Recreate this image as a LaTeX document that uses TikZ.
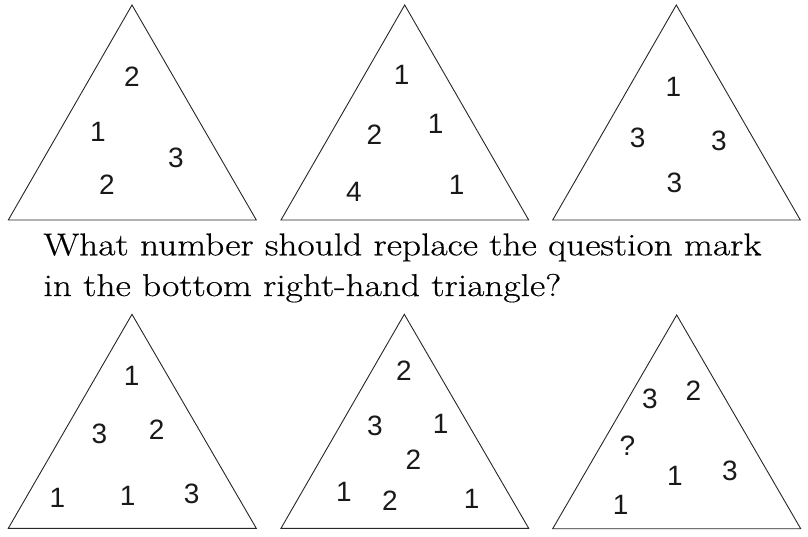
\documentclass[tikz,border=0pt]{standalone}
\usepackage{fontspec}
\newfontfamily\numfont{Liberation Sans}
\newfontfamily\qfont{Latin Modern Roman}[FakeBold=0.45]
\newsavebox\lineonebox
\newsavebox\linetwobox
\begin{document}
\sbox\lineonebox{\qfont\fontsize{31.5}{31.5}\selectfont What number should replace the question mark}
\sbox\linetwobox{\qfont\fontsize{31.5}{31.5}\selectfont in the bottom right-hand triangle?}
\pgfmathsetmacro\sx{718/\wd\lineonebox}
\begin{tikzpicture}[x=1pt,y=-1pt,
  tri/.style={draw=black!85,line width=0.9pt,line join=miter},
  num/.style={inner sep=0pt,font=\numfont\fontsize{28}{28}\selectfont,text=black!90},
  qtext/.style={inner sep=0pt,anchor=base west}]
\useasboundingbox (0,0) rectangle (808,536);
% triangles
\draw[tri] (132,5) -- (8.3,220) -- (256.3,220) -- cycle;
\draw[tri] (404.7,5) -- (281,220) -- (528.7,220) -- cycle;
\draw[tri] (676.3,5) -- (552.7,220) -- (800.3,220) -- cycle;
\draw[tri] (132,314.3) -- (8.3,528.3) -- (256.3,528.3) -- cycle;
\draw[tri] (404.3,314.3) -- (281,528.3) -- (528.7,528.3) -- cycle;
\draw[tri] (676.7,315) -- (552.7,528.7) -- (800.7,528.7) -- cycle;
% top-left
\node[num] (a1) at (132,77) {2};
\node[num] (a2) at (98,132) {1};
\node[num] (a3) at (176,158) {3};
\node[num] (a4) at (107,185) {2};
% top-middle
\node[num] (b1) at (401.7,75) {1};
\node[num] (b2) at (435.7,124) {1};
\node[num] (b3) at (374.3,135) {2};
\node[num] (b4) at (354,191.7) {4};
\node[num] (b5) at (456.7,185) {1};
% top-right
\node[num] (c1) at (673.3,86.7) {1};
\node[num] (c2) at (637.7,138.3) {3};
\node[num] (c3) at (719,140.7) {3};
\node[num] (c4) at (674.3,183.3) {3};
% question
\node[qtext] (q1) at (43.3,255.3) {\scalebox{\sx}[1]{\usebox\lineonebox}};
\node[qtext] (q2) at (43.3,296) {\scalebox{\sx}[1]{\usebox\linetwobox}};
% bottom-left
\node[num] (d1) at (131.7,376) {1};
\node[num] (d2) at (99.3,433.7) {3};
\node[num] (d3) at (156.7,429.3) {2};
\node[num] (d4) at (57.3,497.7) {1};
\node[num] (d5) at (127.7,496) {1};
\node[num] (d6) at (191.7,494.3) {3};
% bottom-middle
\node[num] (e1) at (404,371) {2};
\node[num] (e2) at (375,426) {3};
\node[num] (e3) at (440.7,424.3) {1};
\node[num] (e4) at (413.3,459.3) {2};
\node[num] (e5) at (344,492) {1};
\node[num] (e6) at (390,501) {2};
\node[num] (e7) at (471.7,498.7) {1};
% bottom-right
\node[num] (f1) at (650,399.3) {3};
\node[num] (f2) at (693.3,391) {2};
\node[num] (f3) at (627.3,446) {?};
\node[num] (f4) at (675,476) {1};
\node[num] (f5) at (730,471) {3};
\node[num] (f6) at (620.7,505.3) {1};
\end{tikzpicture}
\end{document}
